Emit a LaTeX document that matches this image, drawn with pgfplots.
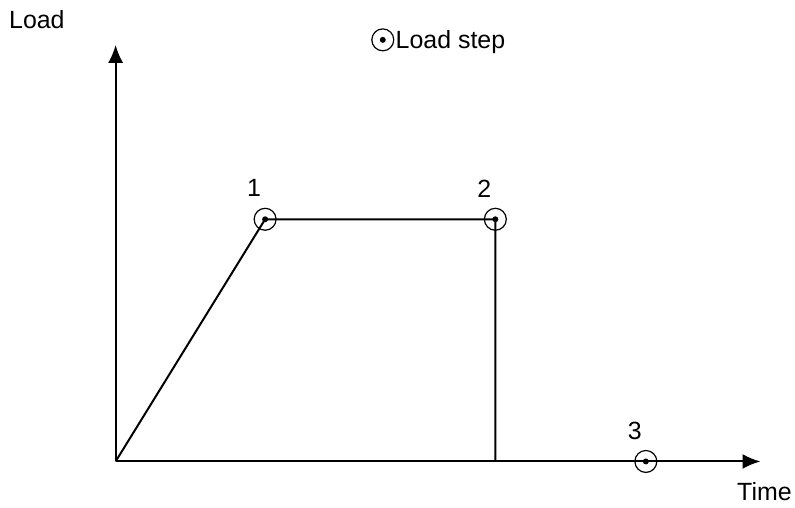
\documentclass[border=0pt]{standalone}
\usepackage{pgfplots}
\pgfplotsset{compat=1.18}
\usepackage{fontspec}
\setmainfont{Liberation Sans}
\usetikzlibrary{arrows.meta}

% circle with a dot in it, for the load steps
\pgfdeclareplotmark{circdot}{%
  \pgfpathcircle{\pgfpointorigin}{11pt}\pgfusepathqstroke
  \pgfpathcircle{\pgfpointorigin}{3pt}\pgfusepathqfill}

\begin{document}
\begin{tikzpicture}[font=\fontsize{25}{29}\selectfont]
\begin{axis}[
  scale only axis,
  width=647pt, height=418pt,
  xmin=0, xmax=647, ymin=0, ymax=418,
  axis x line=bottom, axis y line=left,
  axis line style={line width=2pt, -{Latex[length=18pt,width=15pt]}},
  xtick=\empty, ytick=\empty,
  clip=false,
  legend style={draw=none, fill=none, at={(0.397,1.012)}, anchor=west,
    inner sep=0pt, font=\fontsize{25}{29}\selectfont},
  legend cell align=left,
]
% load path
\addplot[black, line width=2pt, forget plot] coordinates {
  (0,0) (150,243) (381,243) (381,0)
};
% load steps
\addplot[black, only marks, mark=circdot, mark options={line width=1.2pt},
  nodes near coords, point meta=explicit symbolic,
  nodes near coords style={anchor=center, xshift=-11pt, yshift=31pt}]
  coordinates {
  (150,243) [1]
  (381,243) [2]
  (532,0) [3]
};
\addlegendentry{Load step}
\path (axis cs:-116,-46) rectangle (axis cs:679,463);
\node at (axis cs:-79,443) {Load};
\node at (axis cs:651,-30) {Time};
\end{axis}
\end{tikzpicture}
\end{document}
